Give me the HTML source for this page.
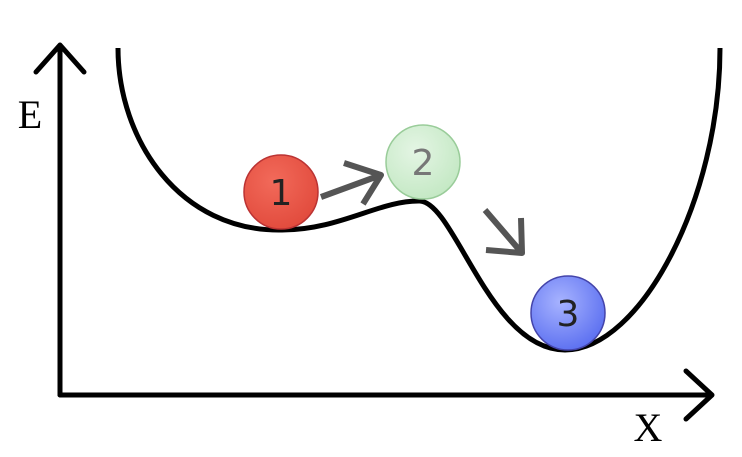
<!DOCTYPE html>
<html><head><style>html,body{margin:0;padding:0;background:#fff;}svg{display:block}</style></head>
<body>
<svg width="742" height="457" viewBox="0 0 742 457" xmlns="http://www.w3.org/2000/svg">
<defs>
<radialGradient id="g1" cx="0.4" cy="0.35" r="0.7"><stop offset="0" stop-color="#f26a5a"/><stop offset="1" stop-color="#e14a3c"/></radialGradient>
<radialGradient id="g2" cx="0.4" cy="0.35" r="0.7"><stop offset="0" stop-color="#e4f5e4"/><stop offset="1" stop-color="#c3e8c3"/></radialGradient>
<radialGradient id="g3" cx="0.4" cy="0.35" r="0.7"><stop offset="0" stop-color="#a7b3ff"/><stop offset="1" stop-color="#5a6ef0"/></radialGradient>
</defs>
<g fill="none" stroke="#000" stroke-width="5" stroke-linecap="round" stroke-linejoin="round">
<path d="M60 395 V45 M36 72 L60 45 L84 72"/>
<path d="M60 395 H712 M686 371 L712 395 L686 419"/>
</g>
<path d="M118 48 C118 140 180 232 282 230 C340 230 380 200 420 201 C455 203 490 350 565 350 C640 350 720 200 720 48" fill="none" stroke="#000" stroke-width="5"/>
<circle cx="281" cy="192" r="37" fill="url(#g1)" stroke="#b33" stroke-width="1.5"/>
<circle cx="423" cy="162" r="37" fill="url(#g2)" stroke="#9c9" stroke-width="1.5"/>
<circle cx="568" cy="313" r="37" fill="url(#g3)" stroke="#44a" stroke-width="1.5"/>
<g fill="none" stroke="#555" stroke-width="6" stroke-linejoin="round">
<path d="M321 197 L381 175 M344 163 L381 175 L363 204"/>
<path d="M485 210 L522 253 M486 250 L522 253 L521 218"/>
</g>
<g font-family="Liberation Serif, serif" font-size="40" text-anchor="middle">
<text x="30" y="128">E</text>
<text x="648" y="441">X</text>
</g>
<g font-family="DejaVu Sans, sans-serif" font-size="36" text-anchor="middle">
<text x="281" y="205" fill="#222">1</text>
<text x="423" y="175" fill="#777">2</text>
<text x="568" y="326" fill="#222">3</text>
</g>
</svg>
</body></html>
